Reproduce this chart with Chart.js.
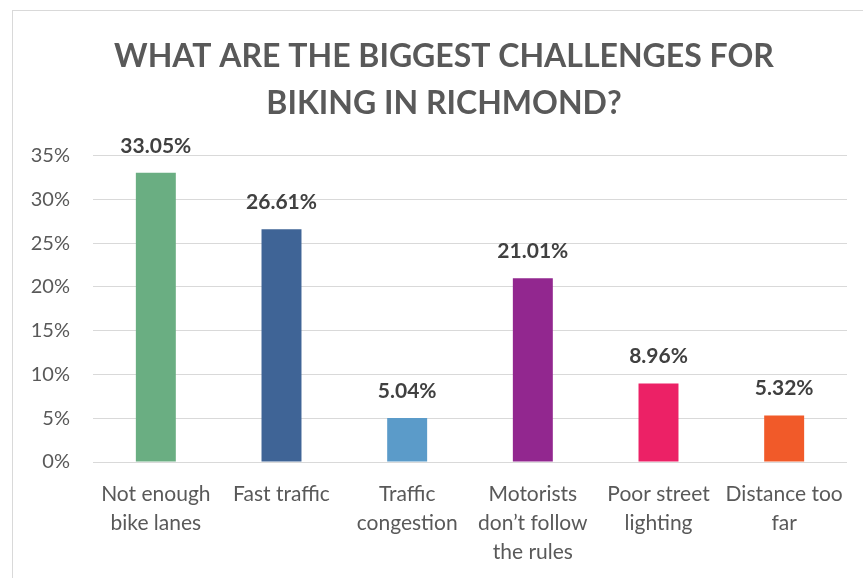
<!DOCTYPE html>
<html>
<head>
<meta charset="utf-8">
<script src="https://cdn.jsdelivr.net/npm/chart.js"></script>
<style>
	html, body { margin: 0; padding: 0; background: #fff; overflow: hidden; }
	#frame { position: absolute; left: 12px; top: 10px; width: 870px; height: 580px; border: 1px solid #d9d9d9; }
	#challengeChart { position: absolute; left: 12px; top: 10px; }
</style>
</head>
<body>
<div id="frame"></div>
<canvas id="challengeChart" width="864" height="568"></canvas>
<script>
const categories = [
	['Not enough', 'bike lanes'],
	'Fast traffic',
	['Traffic', 'congestion'],
	['Motorists', 'don\u2019t follow', 'the rules'],
	['Poor street', 'lighting'],
	['Distance too', 'far']
];
const percents = [33.05, 26.61, 5.04, 21.01, 8.96, 5.32];
const barColors = ['#6aae82', '#3f6496', '#5b9bc9', '#92278f', '#ec2166', '#f15a29'];
const titleLines = ['WHAT ARE THE BIGGEST CHALLENGES FOR', 'BIKING IN RICHMOND?'];

const fontName = 'Lato';

// value labels on top of the bars
const barValueLabels = {
	id: 'barValueLabels',
	afterDatasetsDraw(chart) {
		const ctx = chart.ctx;
		const meta = chart.getDatasetMeta(0);
		ctx.save();
		ctx.font = 'bold 21px ' + fontName;
		ctx.fillStyle = '#404040';
		ctx.textAlign = 'center';
		ctx.textBaseline = 'middle';
		meta.data.forEach(function(bar, i) {
			ctx.fillText(percents[i].toFixed(2) + '%', bar.x, bar.y - 27);
		});
		ctx.restore();
	}
};

const ctx = document.querySelector('#challengeChart').getContext('2d');

const challengeChart = new Chart(ctx, {
	type: 'bar',
	data: {
		labels: categories,
		datasets: [{
			data: percents,
			backgroundColor: barColors,
			borderWidth: 0,
			barPercentage: 0.318,
			categoryPercentage: 1
		}]
	},
	options: {
		responsive: false,
		animation: false,
		layout: { padding: 0 },
		plugins: {
			legend: { display: false },
			tooltip: { enabled: false },
			title: {
				display: true,
				text: titleLines,
				color: '#595959',
				font: { family: fontName, size: 32, weight: 'bold', lineHeight: 1.48 },
				padding: { top: 23, bottom: 28 }
			}
		},
		scales: {
			x: {
				grid: { display: false },
				border: { display: false },
				ticks: {
					color: '#595959',
					font: { family: fontName, size: 21, lineHeight: 1.38 },
					padding: 10,
					maxRotation: 0,
					autoSkip: false
				},
				afterFit: function(scale) { scale.height = 116; }
			},
			y: {
				min: 0,
				max: 35,
				grid: { color: '#d9d9d9', lineWidth: 1, drawTicks: false },
				border: { display: false },
				ticks: {
					stepSize: 5,
					color: '#595959',
					font: { family: fontName, size: 20 },
					padding: 23,
					callback: function(value) { return value + '%'; }
				},
				afterFit: function(scale) { scale.width = 81; }
			},
			// empty right-hand space so the title stays centred on the whole frame
			spacer: {
				position: 'right',
				min: 0,
				max: 35,
				grid: { display: false, drawOnChartArea: false },
				border: { display: false },
				ticks: { display: false },
				afterFit: function(scale) { scale.width = 29; }
			}
		}
	},
	plugins: [barValueLabels]
});
</script>
</body>
</html>
